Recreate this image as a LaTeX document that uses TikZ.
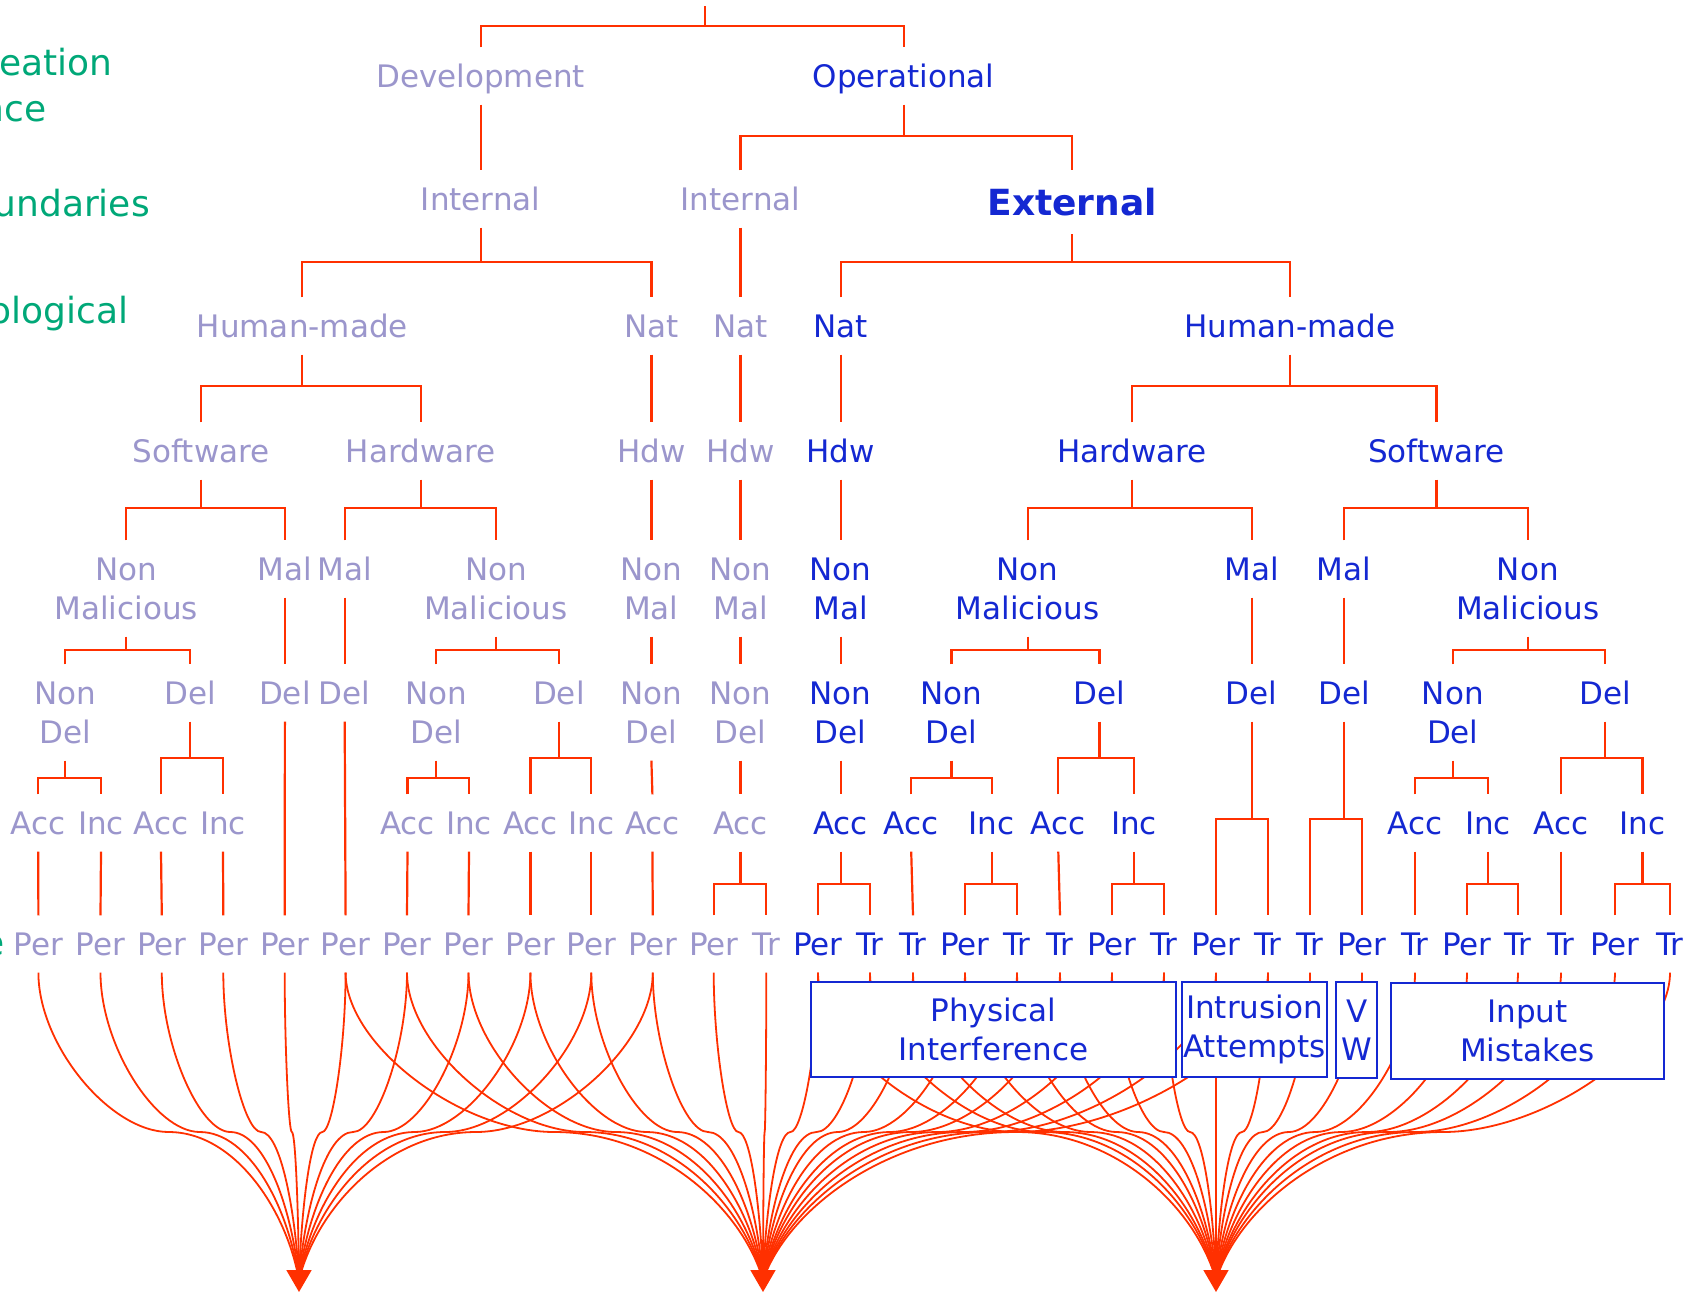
\documentclass[tikz,border=0pt]{standalone}
\usepackage{fontspec}
\setmainfont{DejaVu Sans}
\usetikzlibrary{arrows.meta}
\definecolor{redl}{RGB}{255,48,0}
\definecolor{grayt}{RGB}{155,150,204}
\definecolor{bluet}{RGB}{20,40,210}
\definecolor{greent}{RGB}{0,168,120}
\newcommand\fntA{\fontsize{31pt}{39pt}\selectfont}
\newcommand\fntE{\fontsize{36pt}{44pt}\selectfont\bfseries}
\newcommand\fntG{\fontsize{36pt}{46.7pt}\selectfont}
\newcommand\fntB{\fontsize{31pt}{38.5pt}\selectfont}
\newcommand\brk[4]{\draw[tlink] (#1.south) -- (#1.south |- #4);\draw[tlink] (#2.north) |- (#1.south |- #4) -| (#3.north);}
\newcommand\lnk[2]{\draw[tlink] (#1.south) -- (#2.north);}
\newcommand\fc[4]{%
 \pgfmathsetmacro\fcm{(#2+#3)/2}%
 \pgfmathsetmacro\fca{#2+0.55*(\fcm-#2)}%
 \pgfmathsetmacro\fcb{\fcm+0.5*(#3-\fcm)}%
 \pgfmathsetmacro\fcc{#3-0.1*(#3-\fcm)}%
 \draw[fline] (#1.south) .. controls (#2,1045) and (\fca,1132) .. (\fcm,1132) .. controls (\fcb,1132) and (\fcc,1208) .. (#4);}
\begin{document}
\begin{tikzpicture}[x=1pt,y=-1pt,
 tlink/.style={draw=redl, line width=2.2pt},
 fline/.style={draw=redl, line width=1.8pt},
 txg/.style={inner sep=0pt, font=\fntA, text=grayt, text height=23pt, text depth=0pt, minimum height=57pt},
 txb/.style={inner sep=0pt, font=\fntA, text=bluet, text height=23pt, text depth=0pt, minimum height=57pt},
 ttg/.style={inner sep=0pt, font=\fntA, text=grayt, align=center, minimum height=96pt},
 ttb/.style={inner sep=0pt, font=\fntA, text=bluet, align=center, minimum height=96pt},
 boxs/.style={draw=bluet, line width=2pt, fill=white, text=bluet, font=\fntB, align=center, inner sep=0pt},
 gtxt/.style={inner sep=0pt, font=\fntG, text=greent, anchor=base east}]
\useasboundingbox (0,0) rectangle (1705,1294);
\fill[white] (0,0) rectangle (1705,1294);
\clip (0,0) rectangle (1705,1294);
% side labels
\node[gtxt] (g1) at (113,75) {eation};
\node[gtxt] (g2) at (46.8,121.7) {nce};
\node[gtxt] (g3) at (150,216.7) {undaries};
\node[gtxt] (g4) at (128.3,323) {ological};
\node[gtxt] (g5) at (5,955.5) {e};
% bar levels
\coordinate (yb0) at (0,26);
\coordinate (yb1) at (0,136);
\coordinate (yb2) at (0,262);
\coordinate (yb3) at (0,386);
\coordinate (yb4) at (0,508);
\coordinate (yb5) at (0,650);
\coordinate (yb6n) at (0,777.7);
\coordinate (yb6d) at (0,758);
\coordinate (yb6m) at (0,819);
\coordinate (yb7) at (0,883.6);
\coordinate (root) at (704.6,6);
% level 1
\node[txg] (dev) at (480.6,76) {Development};
\node[txb] (op) at (903.6,76) {Operational};
% level 2
\node[txg] (dint) at (480.6,199) {Internal};
\node[txg] (oint) at (740.5,199) {Internal};
\node[inner sep=0pt, font=\fntE, text=bluet, text height=26.5pt, text depth=0pt, minimum height=64pt] (ext) at (1072.2,202) {External};
% level 3
\node[txg] (dhm) at (302.3,326) {Human-made};
\node[txg] (dnat) at (651.4,326) {Nat};
\node[txg] (onat) at (740.5,326) {Nat};
\node[txb] (enat) at (840.6,326) {Nat};
\node[txb] (ehm) at (1289.7,326) {Human-made};
% level 4
\node[txg] (dsw) at (201.2,451) {Software};
\node[txg] (dhw) at (420.8,451) {Hardware};
\node[txg] (dhdw) at (651.4,451) {Hdw};
\node[txg] (ohdw) at (740.5,451) {Hdw};
\node[txb] (ehdw) at (840.6,451) {Hdw};
\node[txb] (ehw) at (1132,451) {Hardware};
\node[txb] (esw) at (1436.5,451) {Software};
% level 5
\node[ttg] (dswnm) at (126.1,588.5) {Non\\Malicious};
\node[txg] (dswm) at (284.9,569) {Mal};
\node[txg] (dhwm) at (344.7,569) {Mal};
\node[ttg] (dhwnm) at (495.9,588.5) {Non\\Malicious};
\node[ttg] (dnnm) at (651.4,588.5) {Non\\Mal};
\node[ttg] (onnm) at (740.5,588.5) {Non\\Mal};
\node[ttb] (ennm) at (840.6,588.5) {Non\\Mal};
\node[ttb] (ehwnm) at (1027.6,588.5) {Non\\Malicious};
\node[txb] (ehwm) at (1251.6,569) {Mal};
\node[txb] (eswm) at (1344,569) {Mal};
\node[ttb] (eswnm) at (1527.8,588.5) {Non\\Malicious};
% level 6
\node[ttg] (a1) at (65.2,712.5) {Non\\Del};
\node[txg] (a2) at (190.3,693) {Del};
\node[txg] (a3) at (284.9,693) {Del};
\node[txg] (a4) at (344.7,693) {Del};
\node[ttg] (a5) at (436,712.5) {Non\\Del};
\node[txg] (a6) at (558.9,693) {Del};
\node[ttg] (a7) at (651.4,712.5) {Non\\Del};
\node[ttg] (a8) at (740.5,712.5) {Non\\Del};
\node[ttb] (a9) at (840.6,712.5) {Non\\Del};
\node[ttb] (a10) at (951.5,712.5) {Non\\Del};
\node[txb] (a11) at (1099.4,693) {Del};
\node[txb] (a12) at (1251.6,693) {Del};
\node[txb] (a13) at (1344,693) {Del};
\node[ttb] (a14) at (1452.8,712.5) {Non\\Del};
\node[txb] (a15) at (1605,693) {Del};
% level 7
\node[txg] (c1) at (38.2,823) {Acc};
\node[txg] (c2) at (101,823) {Inc};
\node[txg] (c3) at (161,823) {Acc};
\node[txg] (c4) at (223,823) {Inc};
\node[txg] (c5) at (407.5,823) {Acc};
\node[txg] (c6) at (469,823) {Inc};
\node[txg] (c7) at (530.4,823) {Acc};
\node[txg] (c8) at (591.3,823) {Inc};
\node[txg] (c9) at (652.4,823) {Acc};
\node[txg] (c10) at (740.5,823) {Acc};
\node[txb] (c11) at (840.6,823) {Acc};
\node[txb] (c12) at (911.2,823) {Acc};
\node[txb] (c13) at (991.7,823) {Inc};
\node[txb] (c14) at (1058.3,823) {Acc};
\node[txb] (c15) at (1134,823) {Inc};
\node[txb] (c16) at (1415,823) {Acc};
\node[txb] (c17) at (1488,823) {Inc};
\node[txb] (c18) at (1561,823) {Acc};
\node[txb] (c19) at (1642.5,823) {Inc};
% leaves
\node[txg] (l1) at (38.4,944) {Per};
\node[txg] (l2) at (100.5,944) {Per};
\node[txg] (l3) at (161.8,944) {Per};
\node[txg] (l4) at (223.3,944) {Per};
\node[txg] (l5) at (284.7,944) {Per};
\node[txg] (l6) at (345.6,944) {Per};
\node[txg] (l7) at (407,944) {Per};
\node[txg] (l8) at (468.5,944) {Per};
\node[txg] (l9) at (530.4,944) {Per};
\node[txg] (l10) at (591.3,944) {Per};
\node[txg] (l11) at (652.8,944) {Per};
\node[txg] (l12) at (713.7,944) {Per};
\node[txg] (l13) at (766.3,944) {Tr};
\node[txb] (l14) at (818,944) {Per};
\node[txb] (l15) at (870,944) {Tr};
\node[txb] (l16) at (913,944) {Tr};
\node[txb] (l17) at (965,944) {Per};
\node[txb] (l18) at (1017,944) {Tr};
\node[txb] (l19) at (1060,944) {Tr};
\node[txb] (l20) at (1112,944) {Per};
\node[txb] (l21) at (1164,944) {Tr};
\node[txb] (l22) at (1216,944) {Per};
\node[txb] (l23) at (1268,944) {Tr};
\node[txb] (l24) at (1310,944) {Tr};
\node[txb] (l25) at (1362,944) {Per};
\node[txb] (l26) at (1415,944) {Tr};
\node[txb] (l27) at (1467,944) {Per};
\node[txb] (l28) at (1518,944) {Tr};
\node[txb] (l29) at (1561,944) {Tr};
\node[txb] (l30) at (1615,944) {Per};
\node[txb] (l31) at (1670,944) {Tr};
% tree connectors
\draw[tlink] (root) -- (root |- yb0);
\draw[tlink] (dev.north) |- (root |- yb0) -| (op.north);
\lnk{dev}{dint}
\brk{op}{oint}{ext}{yb1}
\brk{dint}{dhm}{dnat}{yb2}
\lnk{oint}{onat}
\brk{ext}{enat}{ehm}{yb2}
\brk{dhm}{dsw}{dhw}{yb3}
\lnk{dnat}{dhdw}
\lnk{onat}{ohdw}
\lnk{enat}{ehdw}
\brk{ehm}{ehw}{esw}{yb3}
\brk{dsw}{dswnm}{dswm}{yb4}
\brk{dhw}{dhwm}{dhwnm}{yb4}
\lnk{dhdw}{dnnm}
\lnk{ohdw}{onnm}
\lnk{ehdw}{ennm}
\brk{ehw}{ehwnm}{ehwm}{yb4}
\brk{esw}{eswm}{eswnm}{yb4}
\brk{dswnm}{a1}{a2}{yb5}
\lnk{dswm}{a3}
\lnk{dhwm}{a4}
\brk{dhwnm}{a5}{a6}{yb5}
\lnk{dnnm}{a7}
\lnk{onnm}{a8}
\lnk{ennm}{a9}
\brk{ehwnm}{a10}{a11}{yb5}
\lnk{ehwm}{a12}
\lnk{eswm}{a13}
\brk{eswnm}{a14}{a15}{yb5}
\brk{a1}{c1}{c2}{yb6n}
\brk{a2}{c3}{c4}{yb6d}
\brk{a5}{c5}{c6}{yb6n}
\brk{a6}{c7}{c8}{yb6d}
\lnk{a7}{c9}
\lnk{a8}{c10}
\lnk{a9}{c11}
\brk{a10}{c12}{c13}{yb6n}
\brk{a11}{c14}{c15}{yb6d}
\brk{a14}{c16}{c17}{yb6n}
\brk{a15}{c18}{c19}{yb6d}
\lnk{c1}{l1}
\lnk{c2}{l2}
\lnk{c3}{l3}
\lnk{c4}{l4}
\lnk{a3}{l5}
\lnk{a4}{l6}
\lnk{c5}{l7}
\lnk{c6}{l8}
\lnk{c7}{l9}
\lnk{c8}{l10}
\lnk{c9}{l11}
\brk{c10}{l12}{l13}{yb7}
\brk{c11}{l14}{l15}{yb7}
\lnk{c12}{l16}
\brk{c13}{l17}{l18}{yb7}
\lnk{c14}{l19}
\brk{c15}{l20}{l21}{yb7}
\brk{a12}{l22}{l23}{yb6m}
\brk{a13}{l24}{l25}{yb6m}
\lnk{c16}{l26}
\brk{c17}{l27}{l28}{yb7}
\lnk{c18}{l29}
\brk{c19}{l30}{l31}{yb7}
% tips
\coordinate (tLc) at (299,1280);
\coordinate (tMc) at (763,1280);
\coordinate (tRc) at (1216,1280);
\coordinate (tL) at (299,1262);
\coordinate (tM) at (763,1262);
\coordinate (tR) at (1216,1262);
\coordinate (tLe) at (299,1292);
\coordinate (tMe) at (763,1292);
\coordinate (tRe) at (1216,1292);
% curves to development faults
\fc{l1}{38.4}{299}{tLc}
\fc{l2}{100.5}{299}{tLc}
\fc{l3}{161.8}{299}{tLc}
\fc{l4}{223.3}{299}{tLc}
\fc{l5}{284.7}{299}{tLc}
\fc{l6}{345.6}{299}{tLc}
\fc{l7}{407}{299}{tLc}
\fc{l8}{468.5}{299}{tLc}
\fc{l9}{530.4}{299}{tLc}
\fc{l10}{591.3}{299}{tLc}
\fc{l11}{652.8}{299}{tLc}
% curves to physical faults
\fc{l6}{345.6}{763}{tMc}
\fc{l7}{407}{763}{tMc}
\fc{l8}{468.5}{763}{tMc}
\fc{l9}{530.4}{763}{tMc}
\fc{l10}{591.3}{763}{tMc}
\fc{l11}{652.8}{763}{tMc}
\fc{l12}{713.7}{763}{tMc}
\fc{l13}{766.3}{763}{tMc}
\fc{l14}{818}{763}{tMc}
\fc{l15}{870}{763}{tMc}
\fc{l16}{913}{763}{tMc}
\fc{l17}{965}{763}{tMc}
\fc{l18}{1017}{763}{tMc}
\fc{l19}{1060}{763}{tMc}
\fc{l20}{1112}{763}{tMc}
\fc{l21}{1164}{763}{tMc}
\fc{l22}{1216}{763}{tMc}
\fc{l23}{1268}{763}{tMc}
% curves to interaction faults
\fc{l14}{818}{1216}{tRc}
\fc{l15}{870}{1216}{tRc}
\fc{l16}{913}{1216}{tRc}
\fc{l17}{965}{1216}{tRc}
\fc{l18}{1017}{1216}{tRc}
\fc{l19}{1060}{1216}{tRc}
\fc{l20}{1112}{1216}{tRc}
\fc{l21}{1164}{1216}{tRc}
\fc{l22}{1216}{1216}{tRc}
\fc{l23}{1268}{1216}{tRc}
\fc{l24}{1310}{1216}{tRc}
\fc{l25}{1362}{1216}{tRc}
\fc{l26}{1415}{1216}{tRc}
\fc{l27}{1467}{1216}{tRc}
\fc{l28}{1518}{1216}{tRc}
\fc{l29}{1561}{1216}{tRc}
\fc{l30}{1615}{1216}{tRc}
\fc{l31}{1670}{1216}{tRc}
% arrowheads
\draw[fline,-{Triangle[length=22pt,width=25pt]}] (tL) -- (tLe);
\draw[fline,-{Triangle[length=22pt,width=25pt]}] (tM) -- (tMe);
\draw[fline,-{Triangle[length=22pt,width=25pt]}] (tR) -- (tRe);
% boxes
\node[boxs, minimum width=365pt, minimum height=95pt] (pi) at (993.4,1029.2) {Physical\\Interference};
\node[boxs, minimum width=145.3pt, minimum height=95.6pt] (ia) at (1254.4,1029.5) {\raisebox{-3pt}{Intrusion}\\\raisebox{-3pt}{Attempts}};
\node[boxs, minimum width=41pt, minimum height=95.4pt] (vw) at (1356.8,1030) {V\\W};
\node[boxs, minimum width=273.6pt, minimum height=95.7pt] (im) at (1527.5,1030.9) {Input\\Mistakes};
\end{tikzpicture}
\end{document}
